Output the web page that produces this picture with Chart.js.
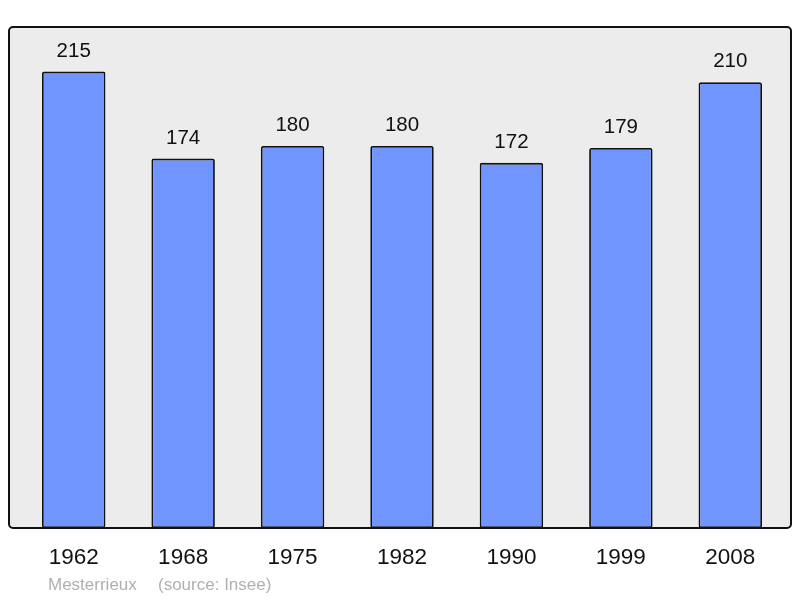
<!DOCTYPE html>
<html>
<head>
<meta charset="utf-8">
<script src="https://cdn.jsdelivr.net/npm/chart.js@4/dist/chart.umd.min.js"></script>
<style>
  html, body { margin: 0; padding: 0; background: #fff; }
  #wrap { width: 800px; height: 598px; }
</style>
</head>
<body>
<div id="wrap"><canvas id="chart" width="800" height="598"></canvas></div>
<script>
// population per census year
const years = ['1962', '1968', '1975', '1982', '1990', '1999', '2008'];
const population = [215, 174, 180, 180, 172, 179, 210];
const yMax = 236;
const townName = 'Mesterrieux';
const sourceNote = '(source: Insee)';

function framePath(ctx, a) {
    ctx.beginPath();
    ctx.roundRect(a.left - 10, a.top, (a.right + 6) - (a.left - 10), a.bottom - a.top, 4);
}

// frame behind the plot + labels on top
const decorPlugin = {
    id: 'decor',
    beforeDraw: function (chart) {
        const ctx = chart.ctx;
        ctx.save();
        framePath(ctx, chart.chartArea);
        ctx.fillStyle = '#ececec';
        ctx.fill();
        ctx.restore();
    },
    afterDraw: function (chart) {
        const ctx = chart.ctx;
        const a = chart.chartArea;
        const meta = chart.getDatasetMeta(0);
        ctx.save();
        framePath(ctx, a);
        ctx.lineWidth = 2;
        ctx.strokeStyle = '#111';
        ctx.stroke();

        ctx.fillStyle = '#111';
        ctx.textAlign = 'center';
        ctx.textBaseline = 'alphabetic';
        ctx.font = '20.5px "Liberation Sans", Arial, sans-serif';
        meta.data.forEach(function (bar, i) {
            ctx.fillText(String(population[i]), bar.x, bar.y - 15);
        });

        ctx.font = '22.5px "Liberation Sans", Arial, sans-serif';
        const xs = chart.scales.x;
        years.forEach(function (y, i) {
            ctx.fillText(y, xs.getPixelForValue(i), a.bottom + 36);
        });

        ctx.textAlign = 'left';
        ctx.fillStyle = '#b0b0b0';
        ctx.font = '17px "Liberation Sans", Arial, sans-serif';
        ctx.fillText(townName, 48, 590);
        ctx.fillText(sourceNote, 158, 590);
        ctx.restore();
    }
};

new Chart(document.getElementById('chart'), {
    type: 'bar',
    data: {
        labels: years,
        datasets: [{
            data: population,
            backgroundColor: '#7195ff',
            borderColor: '#111',
            borderWidth: 1.8,
            borderRadius: 2,
            borderSkipped: false,
            barPercentage: 0.58,
            categoryPercentage: 1.0
        }]
    },
    options: {
        responsive: false,
        animation: false,
        maintainAspectRatio: false,
        plugins: {
            legend: { display: false },
            title: { display: false },
            tooltip: { enabled: false }
        },
        scales: {
            x: { display: false, grid: { display: false } },
            y: { display: false, min: 0, max: yMax, grid: { display: false } }
        },
        layout: {
            padding: { left: 19, right: 15, top: 27, bottom: 70 }
        }
    },
    plugins: [decorPlugin]
});
</script>
</body>
</html>
